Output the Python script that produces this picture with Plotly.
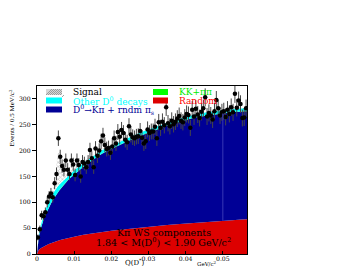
import plotly.graph_objects as go

# ---------------- data ----------------
# component grid (GeV/c^2)
q_grid = [0, 0.0005, 0.001, 0.0015, 0.002, 0.0025, 0.003, 0.0035, 0.004, 0.0045,
          0.005, 0.0055, 0.006, 0.0065, 0.007, 0.0075, 0.008, 0.0085, 0.009, 0.0095,
          0.010, 0.0125, 0.015, 0.0175, 0.020, 0.0225, 0.025, 0.0275, 0.030, 0.0325,
          0.035, 0.0375, 0.040, 0.0425, 0.045, 0.0475, 0.050, 0.0525, 0.055, 0.0565]

random_bkg = [0, 8, 11, 13.5, 15.5, 17, 19, 20.5, 22, 23,
              24.5, 25.5, 26.5, 27.5, 28.5, 29, 30, 31, 32, 32.5,
              33.5, 37, 40, 42.5, 45, 47, 49, 51, 52.5, 54.5,
              56, 57.5, 59, 60.5, 62, 63, 64.5, 65.5, 66.5, 67]

kpi_rndm = [0, 26, 38, 47.5, 55.5, 62, 68, 73.5, 79, 84,
            88.5, 92.5, 96.5, 99.5, 103.5, 107, 110, 113, 115, 118.5,
            120.5, 132, 142, 151.5, 158, 165, 171, 177, 182.5, 187.5,
            192, 196.5, 200, 203.5, 205, 207, 207.5, 208.5, 208.5, 209]

kk_pipi = [0, 0.2, 0.3, 0.3, 0.4, 0.4, 0.4, 0.4, 0.5, 0.5,
           0.5, 0.5, 0.5, 0.5, 0.5, 0.5, 0.5, 0.5, 0.5, 0.5,
           0.5, 0.5, 0.5, 0.5, 0.5, 0.5, 0.5, 0.5, 0.5, 0.5,
           0.5, 0.5, 0.5, 0.5, 0.5, 0.5, 0.5, 0.5, 0.5, 0.5]

other_d0 = [0, 4, 6, 8, 9, 10, 11, 11.5, 12, 12,
            12, 11.5, 11, 10.5, 10, 9.5, 9, 8.5, 8, 8,
            7.5, 7, 6.5, 6.5, 6, 6, 6, 6, 6, 6,
            6, 6, 6, 6, 6, 6, 6, 6, 6, 6]

signal = [0, 0, 0, 0, 0, 0, 0.5, 1, 3, 10,
          30, 62, 66, 38, 16, 9, 7, 6, 5.5, 5,
          5, 4, 3.5, 3, 2.5, 2, 2, 1.5, 1.5, 1.5,
          1.5, 1, 1, 1, 1, 1, 1, 1, 1, 1]

# data points, 0.5 MeV bins
bin_width = 0.0005
counts = [32, 48, 75, 73, 81, 100, 111, 117, 110, 137,
          155, 224, 188, 170, 163, 181, 163, 155, 181, 173,
          153, 181, 172, 150, 178, 175, 168, 178, 201, 185,
          168, 204, 190, 200, 218, 229, 211, 203, 205, 196,
          208, 224, 214, 236, 227, 240, 234, 221, 216, 247,
          231, 226, 224, 227, 228, 238, 225, 214, 218, 241,
          234, 237, 237, 246, 224, 255, 244, 256, 249, 284,
          253, 247, 258, 251, 256, 262, 267, 258, 255, 264,
          271, 269, 244, 279, 266, 281, 270, 263, 275, 282,
          303, 266, 273, 268, 260, 276, 298, 282, 268, 274,
          276, 265, 279, 271, 284, 274, 310, 283, 297, 290,
          263, 264, 282]
bin_centers = [bin_width * (i + 0.5) for i in range(len(counts))]

x_tickvals = [0, 0.01, 0.02, 0.03, 0.04, 0.05]
x_ticktext = ["0", "0.01", "0.02", "0.03", "0.04", "0.05"]
y_tickvals = [0, 50, 100, 150, 200, 250, 300]

# ---------------- style ----------------
FONT = "DejaVu Serif"
FONT_T = "Liberation Serif"
C_RED = "rgb(221,0,0)"
C_BLUE = "rgb(0,0,150)"
C_CYAN = "rgb(0,255,255)"
C_GREEN = "rgb(0,230,0)"

fig = go.Figure()

def comp(y, color, name, pattern=None):
    kw = dict(x=q_grid, y=y, mode="lines", stackgroup="one", name=name,
              line=dict(width=0, color=color), fillcolor=color,
              showlegend=False, hoverinfo="skip")
    if pattern:
        kw["fillpattern"] = pattern
        kw["fillcolor"] = "white"
    fig.add_trace(go.Scatter(**kw))

comp(random_bkg, C_RED, "Random")
comp(kpi_rndm, C_BLUE, "D0->Kpi + rndm pis")
comp(kk_pipi, C_GREEN, "KK+pipi")
comp(other_d0, C_CYAN, "Other D0 decays")
comp(signal, "rgb(150,150,150)", "Signal",
     pattern=dict(shape="x", fgcolor="rgb(120,120,120)", bgcolor="white", size=3, solidity=0.35))

fig.add_trace(go.Scatter(
    x=bin_centers, y=counts, mode="markers", showlegend=False,
    marker=dict(symbol="circle", size=4.5, color="black"),
    error_y=dict(type="sqrt", color="rgb(70,70,70)", thickness=1, width=0),
))

# page has an 8px body margin: figure is offset by it
OFF = 8
W, H = 343 - OFF, 267 - OFF
# plot-area geometry in page px
L, R, T, B = 37, 247, 86, 254

def px(xp):
    return (xp - L) / (R - L)

def py(yp):
    return (B - yp) / (B - T)

shapes = []
ann = []

# faint histogram edge line at Q = 0.05 inside the blue component
i50 = q_grid.index(0.050)
shapes.append(dict(type="line", xref="x", yref="y", x0=0.050, x1=0.050,
                   y0=random_bkg[i50], y1=random_bkg[i50] + kpi_rndm[i50],
                   line=dict(color="rgba(70,70,190,0.8)", width=1), layer="above"))

# legend
col1_sw = (46, 62)
col2_sw = (153, 168)
rows = [92, 100.5, 109.5]
items = [
    (col1_sw, rows[0], None, "Signal", "black"),
    (col1_sw, rows[1], C_CYAN, "Other D<sup>0</sup> decays", C_CYAN),
    (col1_sw, rows[2], C_BLUE, "D<sup>0</sup>→Kπ + rndm π<sub>s</sub>", C_BLUE),
    (col2_sw, rows[0], "rgb(0,255,0)", "KK+ππ", "rgb(0,235,0)"),
    (col2_sw, rows[1], C_RED, "Random", "rgb(255,0,0)"),
]
for (x0, x1), yc, fc, txt, tc in items:
    if fc is None:
        shapes.append(dict(type="rect", xref="paper", yref="paper",
                           x0=px(x0), x1=px(x1), y0=py(yc + 3), y1=py(yc - 3),
                           fillcolor="rgb(215,215,215)", line=dict(width=0), layer="above"))
        for k in range(0, 20, 2):
            xe = min(x0 + k + 6, x1)
            shapes.append(dict(type="line", xref="paper", yref="paper",
                               x0=px(x0 + k), x1=px(xe),
                               y0=py(yc + 3), y1=py(yc + 3 - (xe - (x0 + k))),
                               line=dict(color="rgb(140,140,140)", width=0.8), layer="above"))
    else:
        shapes.append(dict(type="rect", xref="paper", yref="paper",
                           x0=px(x0), x1=px(x1), y0=py(yc + 3), y1=py(yc - 3),
                           fillcolor=fc, line=dict(width=0), layer="above"))
    ann.append(dict(xref="paper", yref="paper", x=px(x1 + 9), y=py(yc),
                    xanchor="left", yanchor="middle", showarrow=False, text=txt,
                    font=dict(family=FONT, size=9, color=tc)))

# inner text
ann.append(dict(xref="paper", yref="paper", x=px(164), y=py(232.5), showarrow=False,
                yanchor="middle",
                text="Kπ WS components", font=dict(family=FONT, size=9.5, color="black")))
ann.append(dict(xref="paper", yref="paper", x=px(163), y=py(242), showarrow=False,
                yanchor="middle",
                text="1.84 < M(D<sup>0</sup>) < 1.90 GeV/c<sup>2</sup>",
                font=dict(family=FONT, size=9.5, color="black")))
# axis titles
ann.append(dict(xref="paper", yref="paper", x=px(135), y=py(262.3), showarrow=False,
                yanchor="middle",
                text="Q(D<sup>*</sup>)", font=dict(family=FONT, size=7, color="black")))
ann.append(dict(xref="paper", yref="paper", x=px(219), y=py(263), showarrow=False,
                yanchor="middle",
                text="GeV/c<sup>2</sup>", font=dict(family=FONT, size=5.5, color="black")))
ann.append(dict(xref="paper", yref="paper", x=px(12), y=py(88), showarrow=False,
                textangle=-90, xanchor="center", yanchor="top",
                text="Events / 0.5 MeV/c<sup>2</sup>", font=dict(family=FONT_T, size=7, color="black")))

fig.update_layout(
    width=W, height=H, autosize=False,
    margin=dict(l=L - OFF, r=W - (R - OFF), t=T - OFF, b=H - (B - OFF), pad=0,
                autoexpand=False),
    paper_bgcolor="white", plot_bgcolor="white",
    shapes=shapes, annotations=ann, showlegend=False,
    font=dict(family=FONT, size=6, color="black"),
    xaxis=dict(range=[0, 0.0565], tickvals=x_tickvals, ticktext=x_ticktext,
               automargin=False,
               showgrid=False, zeroline=False, showline=True, linecolor="black",
               linewidth=1, mirror=True, ticks="inside", ticklen=3, tickcolor="black",
               ticklabelstandoff=-1,
               tickfont=dict(family=FONT, size=6.2, color="black")),
    yaxis=dict(range=[0, 325], tickvals=y_tickvals, automargin=False,
               showgrid=False, zeroline=False, showline=True, linecolor="black",
               linewidth=1, mirror=True, ticks="outside", ticklen=4, tickcolor="black",
               tickfont=dict(family=FONT, size=6.2, color="black")),
)

fig.write_html("out.html")
